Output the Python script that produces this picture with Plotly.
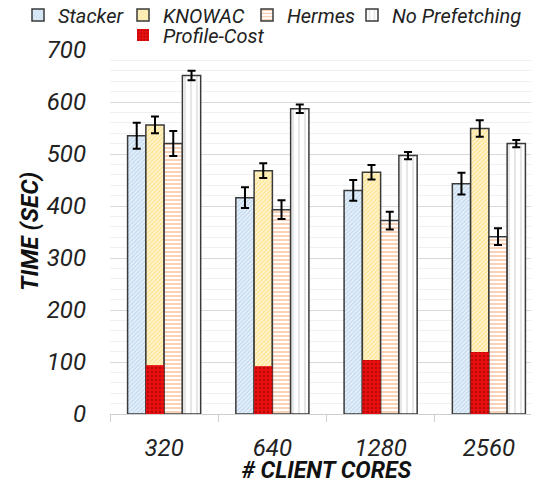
import plotly.graph_objects as go

categories = ["320", "640", "1280", "2560"]
stacker = [535, 416, 430, 443]
stacker_err = [25, 20, 20, 21]
knowac = [556, 468, 465, 549]
knowac_err = [16, 14, 14, 16]
hermes = [520, 393, 372, 341]
hermes_err = [24, 18, 17, 16]
noprefetch = [651, 587, 497, 520]
noprefetch_err = [9, 8, 7, 7]
profile_cost = [94, 92, 104, 119]

FONT = "Roboto"
outline = dict(color="#3a3a3a", width=1.5)
OFF = 8  # page body margin
W, H = 535, 476
L, R, T, B = 102, 0, 42, 70
PH = H - T - B
PW = W - L - R

def err(vals):
    return dict(type="data", array=vals, visible=True, color="black", thickness=2, width=4)

fig = go.Figure()
fig.add_trace(go.Bar(name="Stacker", x=categories, y=stacker, error_y=err(stacker_err),
                     offsetgroup="1", legend="legend6",
                     marker=dict(color="white", line=outline,
                                 pattern=dict(shape="/", fgcolor="#9dc3e6", bgcolor="#eaf2fb", size=3, solidity=0.5))))
fig.add_trace(go.Bar(name="KNOWAC", x=categories, y=knowac, error_y=err(knowac_err),
                     offsetgroup="2", legend="legend2",
                     marker=dict(color="white", line=outline,
                                 pattern=dict(shape="/", fgcolor="#ffd24d", bgcolor="#fff6d6", size=3, solidity=0.5))))
fig.add_trace(go.Bar(name="Hermes", x=categories, y=hermes, error_y=err(hermes_err),
                     offsetgroup="3", legend="legend3",
                     marker=dict(color="white", line=outline,
                                 pattern=dict(shape="-", fgcolor="#f4a46e", bgcolor="white", size=4, solidity=0.5))))
fig.add_trace(go.Bar(name="No Prefetching", x=categories, y=noprefetch, error_y=err(noprefetch_err),
                     offsetgroup="4", legend="legend4",
                     marker=dict(color="white", line=outline,
                                 pattern=dict(shape="|", fgcolor="#cfcfcf", bgcolor="white", size=6, solidity=0.35))))
fig.add_trace(go.Bar(name="Profile-Cost", x=categories, y=profile_cost,
                     offsetgroup="2", legend="legend5",
                     marker=dict(color="#d40000", line=dict(color="#d40000", width=0),
                                 pattern=dict(shape=".", fgcolor="#8a0000", bgcolor="#e81010", size=4, solidity=0.3))))

legend_font = dict(family=FONT, size=20, style="italic", color="#222")

def leg(xpage, ycenter_page):
    xf, yf = xpage - OFF, ycenter_page - OFF
    return dict(orientation="h", x=xf / W, xref="container",
                y=1 + (T - yf) / PH, yref="paper", yanchor="middle",
                xanchor="left", font=legend_font, bgcolor="rgba(0,0,0,0)", itemwidth=30)

fig.update_layout(
    width=W, height=H,
    margin=dict(l=L, r=R, t=T, b=B, autoexpand=False),
    paper_bgcolor="white", plot_bgcolor="white",
    barmode="group", bargap=0.325, bargroupgap=0,
    font=dict(family=FONT, color="#222"),
    legend6=leg(18, 15), legend2=leg(123, 15), legend3=leg(247, 15), legend4=leg(352, 15),
    legend5=leg(123, 35),
    xaxis=dict(showline=True, linecolor="#cfcfcf", linewidth=1, ticks="outside", tickson="boundaries",
               ticklen=7, tickcolor="#cfcfcf", automargin=False, ticklabelstandoff=12,
               tickfont=dict(family=FONT, size=24, style="italic", color="#222"),
               title=dict(text="<b># CLIENT CORES</b>", standoff=0,
                          font=dict(family=FONT, size=23, style="italic", color="#111"))),
    yaxis=dict(range=[0, 700], dtick=100, showgrid=True, gridcolor="#d9d9d9", gridwidth=1,
               zeroline=False, showline=False, ticks="", ticklabelstandoff=23, automargin=False,
               minor=dict(dtick=20, showgrid=True, gridcolor="#f0f0f0"),
               tickfont=dict(family=FONT, size=24, style="italic", color="#222")),
    annotations=[dict(text="<b>TIME (SEC)</b>", textangle=-90, showarrow=False,
                      xref="paper", yref="paper", x=(30 - OFF - L) / PW, y=0.5,
                      xanchor="center", yanchor="middle",
                      font=dict(family=FONT, size=24, style="italic", color="#111"))],
)

fig.write_html("out.html", config={"displayModeBar": False})
